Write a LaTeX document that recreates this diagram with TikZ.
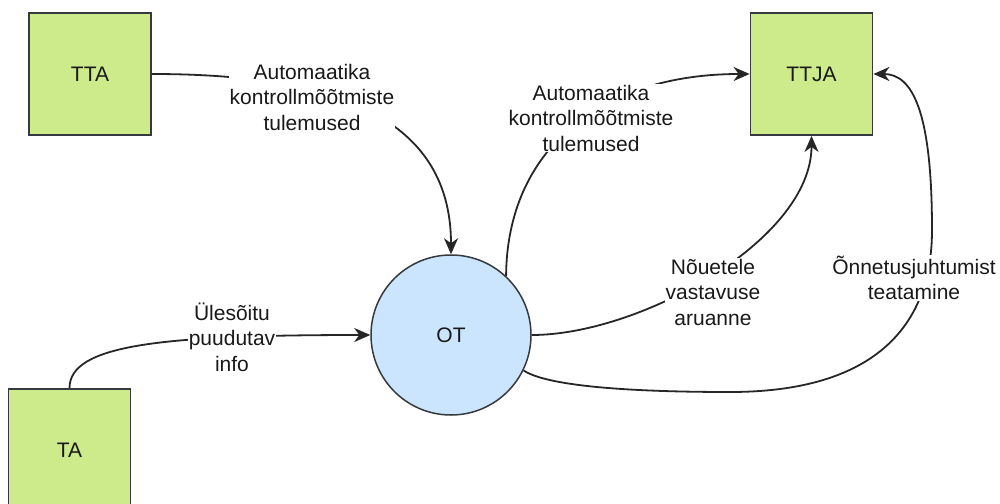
\documentclass[tikz,border=0pt]{standalone}
\usepackage{fontspec}
\setmainfont{Liberation Sans}
\usetikzlibrary{arrows.meta}
\definecolor{boxfill}{HTML}{CDEB8B}
\definecolor{boxline}{HTML}{36393D}
\definecolor{procfill}{HTML}{CCE5FF}
\pgfdeclarelayer{edges}
\pgfsetlayers{edges,main}

\begin{document}
\begin{tikzpicture}[x=1pt,y=-1pt,
  txt/.style={font=\fontsize{21}{25.5}\selectfont, text=black!90},
  entity/.style={draw=boxline, fill=boxfill, line width=1.8pt,
    minimum width=122pt, minimum height=122pt, inner sep=0pt, txt},
  process/.style={circle, draw=boxline, fill=procfill, line width=1.5pt,
    minimum size=160pt, inner sep=0pt, txt},
  lbl/.style={fill=white, inner sep=0.5pt, align=center, txt},
  flow/.style={line width=1.8pt, draw=black!85,
    -{Stealth[length=16pt,width=14pt,inset=5pt]}},
  plain/.style={line width=1.8pt, draw=black!85},
]
\useasboundingbox (0,0) rectangle (1000,503);

% external entities and the process
\node[entity]  (TTA)  at (90,74)    {TTA};
\node[entity]  (TTJA) at (811.5,74) {TTJA};
\node[entity]  (TA)   at (69.5,450) {TA};
\node[process] (OT)   at (451,335)  {OT};

% flow labels
\node[lbl] (l1) at (312,97)  {Automaatika\\kontrollmõõtmiste\\tulemused};
\node[lbl] (l2) at (591,118) {Automaatika\\kontrollmõõtmiste\\tulemused};
\node[lbl] (l3) at (713,292) {Nõuetele\\vastavuse\\aruanne};
\node[lbl] (l4) at (914,278) {Õnnetusjuhtumist\\teatamine};
\node[lbl] (l5) at (232,337) {Ülesõitu\\puudutav\\info};

% data flows
\begin{pgfonlayer}{edges}
  \draw[flow] (TTA.east) .. controls (320,74) and (451,110) .. (OT.north);
  \draw[flow] (OT.47) .. controls (507,150) and (600,74) .. (TTJA.west);
  \draw[flow] (OT.east) .. controls (640,335) and (811.5,240) .. (TTJA.south);
  \draw[flow] (OT.-26) .. controls (545,385) and (620,392) .. (730,392)
     .. controls (870,392) and (932,330) .. (932,230)
     .. controls (932,110) and (912,74) .. (TTJA.east);
  \draw[flow] (TA.north) .. controls (69.5,345) and (160,335) .. (OT.west);
\end{pgfonlayer}
\end{tikzpicture}
\end{document}
